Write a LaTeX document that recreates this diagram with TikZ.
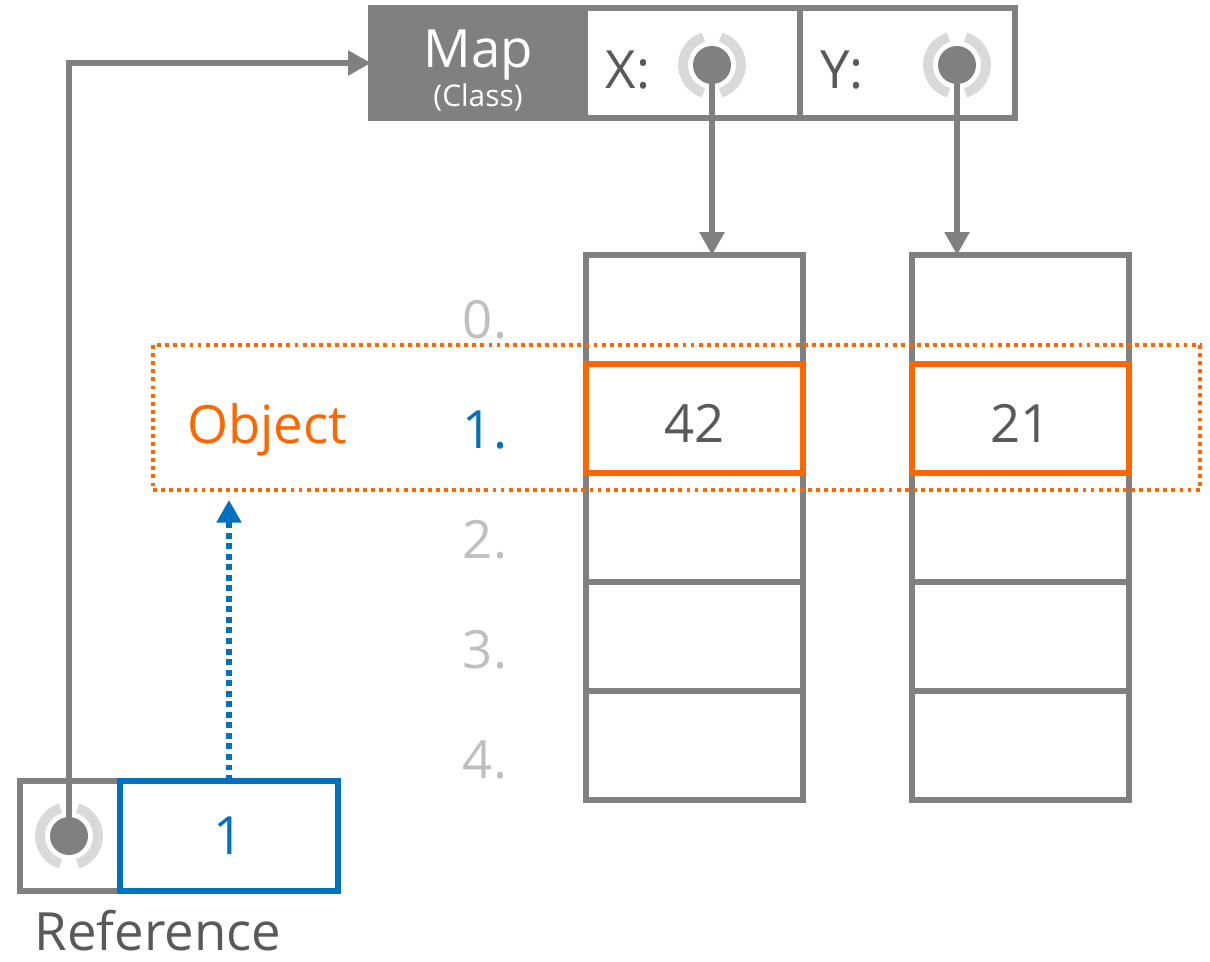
\documentclass[tikz,border=0pt]{standalone}
\usepackage{fontspec}
\setmainfont{Open Sans}
\usetikzlibrary{arrows.meta,positioning}
\definecolor{slate}{RGB}{128,128,128}
\definecolor{mist}{RGB}{217,217,217}
\definecolor{ink}{RGB}{89,89,89}
\definecolor{faint}{RGB}{191,191,191}
\definecolor{amber}{RGB}{255,102,0}
\definecolor{cobalt}{RGB}{0,112,192}

% pointer symbol: split grey ring round a dark dot
\newcommand{\ptrring}[2]{%
  \draw[ring] #2 ++(73:29) arc[start angle=73,end angle=-73,radius=29];
  \draw[ring] #2 ++(107:29) arc[start angle=107,end angle=253,radius=29];
  \node[dot] (#1) at #2 {};}

\begin{document}
\begin{tikzpicture}[x=0.02cm,y=-0.02cm,
  cell/.style={draw=slate,fill=white,line width=3.4pt,outer sep=0pt,inner sep=0pt,
               minimum width=4.34cm,minimum height=2.18cm,
               font=\fontsize{30}{32}\selectfont,text=ink},
  hot/.style={cell,draw=amber,fill=none,text height=27pt,text depth=0pt},
  slot/.style={cell,minimum width=4.3cm,minimum height=2.2cm},
  classbox/.style={slot,fill=slate,minimum width=4.28cm},
  txt/.style={font=\fontsize{30}{32}\selectfont,text=ink,anchor=base,inner sep=0pt},
  idx/.style={txt,text=faint},
  ring/.style={mist,line width=5.6pt},
  dot/.style={circle,fill=slate,inner sep=0pt,minimum size=0.76cm},
  link/.style={slate,line width=3.4pt,-{Triangle[length=13pt,width=13.5pt]}},
  jump/.style={cobalt,line width=3.4pt,dash pattern=on 3.4pt off 2.6pt,
               -{Triangle[length=13pt,width=13.5pt]},shorten >=5.6pt},
  frame/.style={draw=amber,line width=2.2pt,dash pattern=on 2.2pt off 2.4pt,
                minimum width=20.94cm,minimum height=2.9cm,outer sep=0pt},
]
  \useasboundingbox (0,0) rectangle (1210,961);

  % class header
  \node[classbox] (map) at (478,63) {};
  \node[txt,text=white] (mapname) at (478,67) {Map};
  \node[txt,text=white,font=\fontsize{17}{18}\selectfont] (mapkind) at (478,106) {(Class)};
  \node[slot] (xs) at (692.5,63) {};
  \node[slot] (ys) at (907.5,63) {};
  \node[txt] (xl) at (628,88) {X:};
  \node[txt] (yl) at (842,88) {Y:};
  \ptrring{xp}{(712,65)}
  \ptrring{yp}{(957,65)}

  % the two arrays
  \foreach \i in {0,...,4}{
    \node[cell] (a\i) at (694.5,{309.5+109*\i}) {};
    \node[cell] (b\i) at (1020.5,{309.5+109*\i}) {};
  }
  \node[hot] (ax) at (a1) {42};
  \node[hot] (bx) at (b1) {21};

  % indices
  \foreach \i/\c in {0/faint,1/cobalt,2/faint,3/faint,4/faint}
    \node[idx,text=\c] (n\i) at (485,{338+110*\i}) {\i.};

  \node[frame] (objrow) at (676.5,417.5) {};
  \node[txt,text=amber] (objname) at (267,443) {Object};

  % reference
  \node[cell,minimum width=2cm,minimum height=2.2cm] (rbox) at (70,836) {};
  \node[cell,draw=cobalt,text=cobalt,minimum width=4.36cm,minimum height=2.2cm] (val) at (229,836) {1};
  \ptrring{rp}{(69,836)}
  \node[txt] (reflabel) at (158,950) {Reference};

  \draw[link] (xp) -- (xp |- a0.north);
  \draw[link] (yp) -- (yp |- b0.north);
  \draw[link] (rp) |- (map);
  \draw[jump] (val) -- (val |- objrow.south);
\end{tikzpicture}
\end{document}
